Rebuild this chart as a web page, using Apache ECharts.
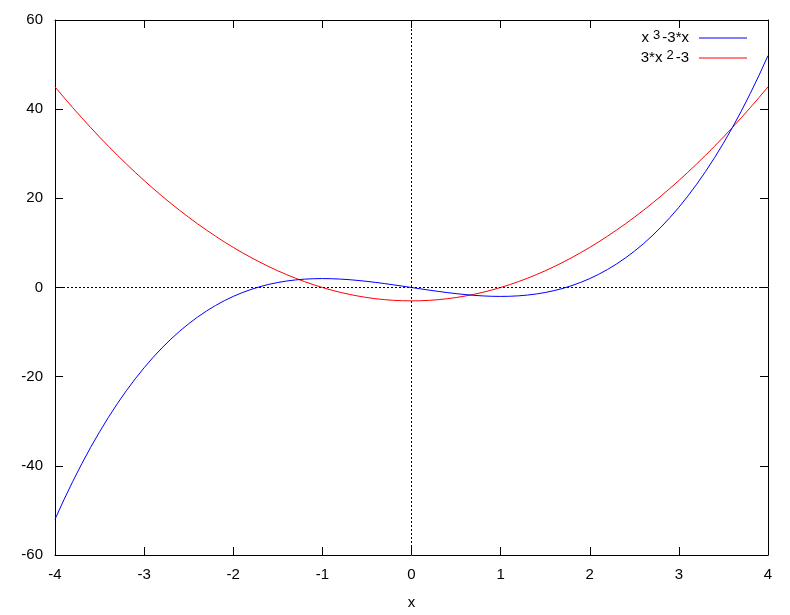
<!DOCTYPE html>
<html>
<head>
<meta charset="utf-8">
<script src="https://cdn.jsdelivr.net/npm/echarts@6/dist/echarts.min.js"></script>
<style>html,body{margin:0;padding:0;background:#fff;}#c{width:790px;height:615px;}</style>
</head>
<body>
<div id="c"></div>
<script>
const xValues = [-4.0,-3.9,-3.8,-3.7,-3.6,-3.5,-3.4,-3.3,-3.2,-3.1,-3.0,-2.9,-2.8,-2.7,-2.6,-2.5,-2.4,-2.3,-2.2,-2.1,-2.0,-1.9,-1.8,-1.7,-1.6,-1.5,-1.4,-1.3,-1.2,-1.1,-1.0,-0.9,-0.8,-0.7,-0.6,-0.5,-0.4,-0.3,-0.2,-0.1,0.0,0.1,0.2,0.3,0.4,0.5,0.6,0.7,0.8,0.9,1.0,1.1,1.2,1.3,1.4,1.5,1.6,1.7,1.8,1.9,2.0,2.1,2.2,2.3,2.4,2.5,2.6,2.7,2.8,2.9,3.0,3.1,3.2,3.3,3.4,3.5,3.6,3.7,3.8,3.9,4.0];
const cubicValues = [-52,-47.619,-43.472,-39.553,-35.856,-32.375,-29.104,-26.037,-23.168,-20.491,-18,-15.689,-13.552,-11.583,-9.776,-8.125,-6.624,-5.267,-4.048,-2.961,-2,-1.159,-0.432,0.187,0.704,1.125,1.456,1.703,1.872,1.969,2,1.971,1.888,1.757,1.584,1.375,1.136,0.873,0.592,0.299,0,-0.299,-0.592,-0.873,-1.136,-1.375,-1.584,-1.757,-1.888,-1.971,-2,-1.969,-1.872,-1.703,-1.456,-1.125,-0.704,-0.187,0.432,1.159,2,2.961,4.048,5.267,6.624,8.125,9.776,11.583,13.552,15.689,18,20.491,23.168,26.037,29.104,32.375,35.856,39.553,43.472,47.619,52];
const quadValues = [45,42.63,40.32,38.07,35.88,33.75,31.68,29.67,27.72,25.83,24,22.23,20.52,18.87,17.28,15.75,14.28,12.87,11.52,10.23,9,7.83,6.72,5.67,4.68,3.75,2.88,2.07,1.32,0.63,0,-0.57,-1.08,-1.53,-1.92,-2.25,-2.52,-2.73,-2.88,-2.97,-3,-2.97,-2.88,-2.73,-2.52,-2.25,-1.92,-1.53,-1.08,-0.57,0,0.63,1.32,2.07,2.88,3.75,4.68,5.67,6.72,7.83,9,10.23,11.52,12.87,14.28,15.75,17.28,18.87,20.52,22.23,24,25.83,27.72,29.67,31.68,33.75,35.88,38.07,40.32,42.63,45];
const xTicks = {min: -4, max: 4, interval: 1};
const yTicks = {min: -60, max: 60, interval: 20};
const seriesNames = ['x3-3*x', '3*x2-3'];

const FONT = 'Liberation Sans, Arial, sans-serif';
const chart = echarts.init(document.getElementById('c'), null, {renderer: 'canvas'});
const axisCommon = {
  axisLine: {show: true, onZero: false, lineStyle: {color: '#000', width: 1}},
  axisTick: {show: true, inside: true, length: 8, lineStyle: {color: '#000', width: 1}},
  splitLine: {show: false}
};
chart.setOption({
  animation: false,
  backgroundColor: '#fff',
  grid: {left: 55, right: 22, top: 20, bottom: 60},
  legend: {
    orient: 'vertical', right: 38, top: 24, align: 'right',
    icon: 'rect', itemWidth: 48, itemHeight: 1, itemGap: 2,
    data: seriesNames,
    formatter: function (n) {
      return n === seriesNames[0] ? '{a|x}{s|3}{b|-3*x}' : '{a|3*x}{s|2}{b|-3}';
    },
    textStyle: {
      color: '#000', fontFamily: FONT, fontSize: 15, lineHeight: 18,
      rich: {
        a: {fontSize: 15, fontFamily: FONT, color: '#000', lineHeight: 18},
        b: {fontSize: 15, fontFamily: FONT, color: '#000', lineHeight: 18, padding: [0, 5, 0, 0]},
        s: {fontSize: 13, fontFamily: FONT, color: '#000', lineHeight: 18, verticalAlign: 'top', padding: [0, 2, 0, 4]}
      }
    }
  },
  xAxis: [
    Object.assign({type: 'value', min: xTicks.min, max: xTicks.max, interval: xTicks.interval,
      name: 'x', nameLocation: 'middle', nameGap: 40,
      nameTextStyle: {color: '#000', fontFamily: FONT, fontSize: 15},
      axisLabel: {color: '#000', fontFamily: FONT, fontSize: 15, margin: 12}}, axisCommon),
    Object.assign({type: 'value', position: 'top', min: xTicks.min, max: xTicks.max, interval: xTicks.interval,
      axisLabel: {show: false}}, axisCommon)
  ],
  yAxis: [
    Object.assign({type: 'value', min: yTicks.min, max: yTicks.max, interval: yTicks.interval,
      axisLabel: {color: '#000', fontFamily: FONT, fontSize: 15, margin: 12}}, axisCommon),
    Object.assign({type: 'value', position: 'right', min: yTicks.min, max: yTicks.max, interval: yTicks.interval,
      axisLabel: {show: false}}, axisCommon)
  ],
  series: [
    {
      name: seriesNames[0], type: 'line', xAxisIndex: 0, yAxisIndex: 0,
      data: xValues.map((x, i) => [x, cubicValues[i]]),
      showSymbol: false, symbol: 'none',
      lineStyle: {color: '#0000ff', width: 1}, itemStyle: {color: '#0000ff'},
      markLine: {
        silent: true, symbol: 'none', label: {show: false},
        lineStyle: {color: '#000', width: 1, type: [2, 2]},
        data: [{xAxis: 0}, {yAxis: 0}]
      },
      z: 3
    },
    {
      name: seriesNames[1], type: 'line', xAxisIndex: 0, yAxisIndex: 0,
      data: xValues.map((x, i) => [x, quadValues[i]]),
      showSymbol: false, symbol: 'none',
      lineStyle: {color: '#ff0000', width: 1}, itemStyle: {color: '#ff0000'},
      z: 2
    }
  ]
});
</script>
</body>
</html>
